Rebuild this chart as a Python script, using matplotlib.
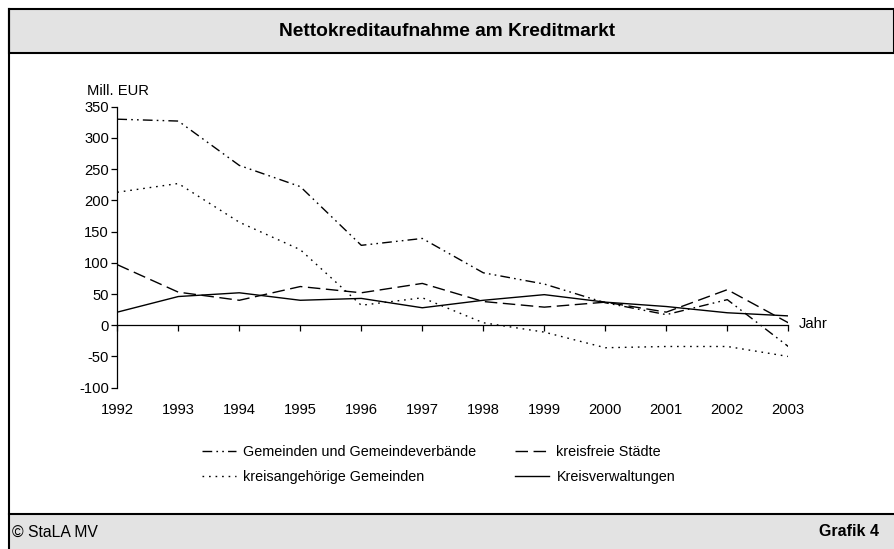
import matplotlib
matplotlib.use("Agg")
import matplotlib.pyplot as plt
from matplotlib.patches import Rectangle
from matplotlib.lines import Line2D

plt.rcParams['font.family'] = ['Liberation Sans', 'DejaVu Sans']

years = [1992, 1993, 1994, 1995, 1996, 1997, 1998, 1999, 2000, 2001, 2002, 2003]
gemeinden_verbaende = [330, 327, 256, 222, 128, 139, 84, 66, 36, 17, 41, -34]
kreisfreie_staedte = [97, 53, 40, 62, 52, 67, 38, 29, 37, 21, 57, 4]
kreisangehoerige = [213, 227, 165, 121, 32, 44, 4, -11, -36, -34, -34, -50]
kreisverwaltungen = [21, 46, 52, 40, 43, 28, 40, 49, 37, 30, 20, 15]

labels = ["Gemeinden und Gemeindeverbände", "kreisfreie Städte",
          "kreisangehörige Gemeinden", "Kreisverwaltungen"]
yticks = [-100, -50, 0, 50, 100, 150, 200, 250, 300, 350]

W, H = 894, 549
fig = plt.figure(figsize=(W / 100, H / 100), dpi=100)

def fx(px):
    return px / W

def fy(py):
    return 1 - py / H

# frame and bands
gray = "#e3e3e3"
fig.patches.append(Rectangle((fx(9), fy(53)), fx(W) - fx(9), fy(9) - fy(53),
                             transform=fig.transFigure, facecolor=gray,
                             edgecolor="black", linewidth=1.5, zorder=0))
fig.patches.append(Rectangle((fx(9), fy(549)), fx(W) - fx(9), fy(514) - fy(549),
                             transform=fig.transFigure, facecolor=gray,
                             edgecolor="none", zorder=0))
fig.add_artist(Line2D([fx(9), fx(W)], [fy(514), fy(514)], color="black", lw=1.5,
                      transform=fig.transFigure))
fig.add_artist(Line2D([fx(9), fx(9)], [fy(9), fy(549)], color="black", lw=1.5,
                      transform=fig.transFigure))

fig.text(fx(447), fy(32), "Nettokreditaufnahme am Kreditmarkt", ha="center", va="center",
         fontsize=13.8, fontweight="bold")
fig.text(fx(12), fy(532), "© StaLA MV", ha="left", va="center", fontsize=11.3)
fig.text(fx(879), fy(532), "Grafik 4", ha="right", va="center", fontsize=11.5,
         fontweight="bold")

ax = fig.add_axes([fx(117.3), fy(387.7), fx(788.3) - fx(117.3), fy(106.7) - fy(387.7)])
ax.set_xlim(1992, 2003)
ax.set_ylim(-100, 350)
ax.patch.set_alpha(0)

lw = 1.0
ddot = [7, 3, 1.2, 3, 1.2, 3]
dash = [9, 4]
dot = [1.2, 3.5]
ax.plot(years, gemeinden_verbaende, color="black", lw=lw, dashes=ddot)
ax.plot(years, kreisfreie_staedte, color="black", lw=lw, dashes=dash)
ax.plot(years, kreisangehoerige, color="black", lw=lw, dashes=dot)
ax.plot(years, kreisverwaltungen, color="black", lw=lw)

for s in ["top", "right"]:
    ax.spines[s].set_visible(False)
ax.spines["bottom"].set_position(("data", 0))
ax.spines["left"].set_linewidth(0.9)
ax.spines["bottom"].set_linewidth(0.9)
ax.set_xticks(years)
ax.tick_params(axis="x", direction="out", length=4, width=0.9, labelbottom=False)
ax.set_yticks(yticks)
ax.set_yticklabels([str(v) for v in yticks])
ax.tick_params(axis="y", direction="out", length=4, width=0.9, labelsize=10.6, pad=2)

sec = ax.secondary_xaxis("bottom")
sec.set_xticks(years)
sec.set_xticklabels([str(y) for y in years])
sec.tick_params(length=0, labelsize=10.6, pad=11)
sec.spines["bottom"].set_visible(False)

fig.text(fx(87), fy(91), "Mill. EUR", ha="left", va="center", fontsize=10.6)
fig.text(fx(799), fy(324), "Jahr", ha="left", va="center", fontsize=10.6)

h_gv = Line2D([], [], color="black", lw=lw, dashes=ddot)
h_kfs = Line2D([], [], color="black", lw=lw, dashes=dash)
h_kag = Line2D([], [], color="black", lw=lw, dashes=dot)
h_kv = Line2D([], [], color="black", lw=lw)
# matplotlib fills legend column-wise
fig.legend([h_gv, h_kag, h_kfs, h_kv], [labels[0], labels[2], labels[1], labels[3]],
           ncol=2, loc="upper left", bbox_to_anchor=(fx(202), fy(445)),
           frameon=False, fontsize=10.4, handlelength=2.35, handletextpad=0.5,
           columnspacing=2.7, labelspacing=0.78, borderpad=0, borderaxespad=0)

fig.savefig("out.png", dpi=100)
